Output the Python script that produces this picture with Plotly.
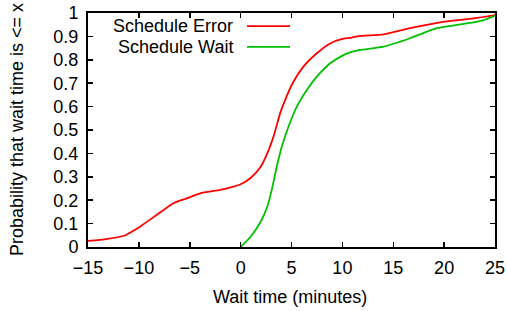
import plotly.graph_objects as go

# Schedule Error CDF
err_x = [-15, -13.17, -11.53, -9.89, -8.25, -6.6, -5.29, -3.98, -2.0, -0.7, 0.0, 0.98, 1.97, 2.62, 3.28,
         3.88, 4.37, 5.19, 6.17, 7.49, 8.8, 10.1, 10.76, 11.74, 14.04, 16.66, 19.6, 22.9, 25]
err_y = [0.026, 0.034, 0.047, 0.087, 0.137, 0.187, 0.208, 0.229, 0.244, 0.258, 0.268, 0.295, 0.343, 0.40, 0.479,
         0.571, 0.628, 0.706, 0.771, 0.828, 0.87, 0.89, 0.894, 0.902, 0.909, 0.935, 0.96, 0.977, 0.991]

# Schedule Wait CDF
wait_x = [0, 0.98, 1.97, 2.62, 3.06, 3.55, 4.05, 4.7, 5.52, 6.5, 7.49, 8.8, 10.1, 10.76, 11.74, 14.04,
          16.66, 19.3, 22.9, 23.9, 25]
wait_y = [0.0, 0.044, 0.108, 0.172, 0.244, 0.343, 0.429, 0.514, 0.60, 0.671, 0.728, 0.785, 0.82, 0.832, 0.842,
          0.856, 0.892, 0.935, 0.96, 0.97, 0.988]

x_ticks = [-15, -10, -5, 0, 5, 10, 15, 20, 25]
y_ticks = [0, 0.1, 0.2, 0.3, 0.4, 0.5, 0.6, 0.7, 0.8, 0.9, 1]
y_tick_text = ["0", "0.1", "0.2", "0.3", "0.4", "0.5", "0.6", "0.7", "0.8", "0.9", "1"]

series_names = ["Schedule Error", "Schedule Wait"]
series_colors = ["#ff0000", "#00c000"]

FONT = "Liberation Sans, Arial, Helvetica, sans-serif"
FS = 18

fig = go.Figure()
fig.add_trace(go.Scatter(x=err_x, y=err_y, mode="lines", name=series_names[0],
                         line=dict(color=series_colors[0], width=1.8, shape="spline", smoothing=0.6)))
fig.add_trace(go.Scatter(x=wait_x, y=wait_y, mode="lines", name=series_names[1],
                         line=dict(color=series_colors[1], width=1.8, shape="spline", smoothing=0.6)))

# gnuplot-style legend: text on the left, line sample on the right
legend_y = [0.944, 0.855]
for name, color, ly in zip(series_names, series_colors, legend_y):
    fig.add_annotation(xref="paper", yref="paper", x=0.362, y=ly, text=name, showarrow=False,
                       xanchor="right", yanchor="middle", font=dict(size=FS, color="black", family=FONT))
    fig.add_shape(type="line", xref="paper", yref="paper", x0=0.3907, x1=0.4963, y0=ly, y1=ly,
                  line=dict(color=color, width=1.8))

# axis titles
fig.add_annotation(xref="paper", yref="paper", x=0.496, y=-0.2137, text="Wait time (minutes)",
                   showarrow=False, xanchor="center", yanchor="middle",
                   font=dict(size=FS, color="black", family=FONT))
fig.add_annotation(xref="paper", yref="paper", x=-0.1744, y=0.5, text="Probability that wait time is <= x",
                   showarrow=False, xanchor="center", yanchor="middle", textangle=-90,
                   font=dict(size=FS, color="black", family=FONT))

axis_common = dict(showgrid=False, zeroline=False, showline=True, linecolor="black", linewidth=2,
                   mirror="ticks", ticks="inside", ticklen=5, tickwidth=1.5, tickcolor="black",
                   automargin=False, tickfont=dict(size=FS, color="black", family=FONT))

fig.update_xaxes(range=[-15, 25], tickvals=x_ticks, ticklabelstandoff=3, **axis_common)
fig.update_yaxes(range=[0, 1], tickvals=y_ticks, ticktext=y_tick_text, ticklabelstandoff=4, **axis_common)

fig.update_layout(width=507, height=311, margin=dict(l=88, r=12, t=13, b=64, pad=0, autoexpand=False),
                  paper_bgcolor="white", plot_bgcolor="white", showlegend=False, hovermode=False,
                  font=dict(family=FONT, size=FS, color="black"))

fig.write_html("out.html", config={"displayModeBar": False, "staticPlot": True},
               post_script="document.body.style.margin='0px';document.body.style.overflow='hidden';")
